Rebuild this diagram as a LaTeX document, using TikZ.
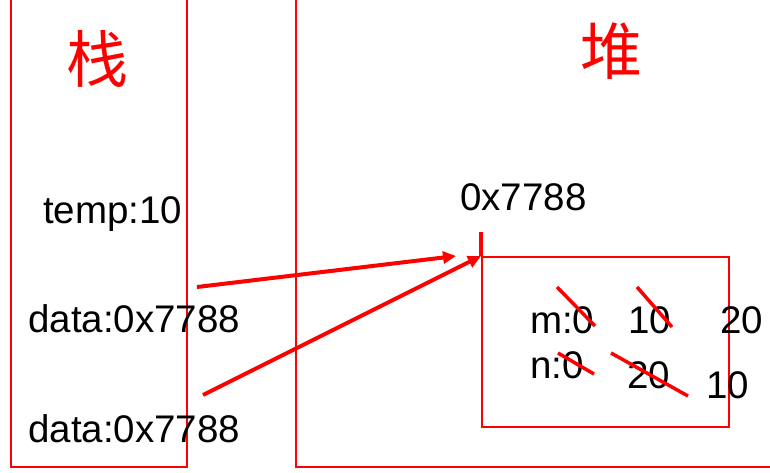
\documentclass[tikz,border=0pt]{standalone}
\usepackage{fontspec}
\setmainfont{Liberation Sans}
\newfontfamily\cjk{Noto Sans CJK SC}
\usetikzlibrary{arrows.meta}
\begin{document}
\begin{tikzpicture}[x=1pt,y=-1pt,
  box/.style={draw=red, line width=1.8pt},
  txt/.style={anchor=base west, inner sep=0pt, font=\fontsize{38.5}{40}\selectfont},
  title/.style={text=red, inner sep=0pt, font=\cjk\fontsize{62}{64}\selectfont},
  arr/.style={draw=red, line width=4pt, -{Triangle[length=13pt,width=12pt]}},
  strike/.style={draw=red, line width=3.5pt},
  tickline/.style={draw=red, line width=3.5pt}]
\useasboundingbox (0,0) rectangle (770,473);
% stack and heap areas
\draw[box] (11,-5) -- (11,467) -- (187,467) -- (187,-5);
\draw[box] (296,-5) -- (296,467) -- (775,467);
\node[title] (stack) at (97,59) {栈};
\node[title] (heap) at (611,51) {堆};
% stack contents
\node[txt] (temp) at (43,223) {temp:10};
\node[txt] (d1) at (28,332) {data:0x7788};
\node[txt] (d2) at (28,442) {data:0x7788};
% heap object
\node[box, anchor=north west, minimum width=247pt, minimum height=170pt, inner sep=0pt] (obj) at (481,256) {};
\node[txt] (addr) at (460,210) {0x7788};
\coordinate (tk) at (481,232);
\draw[tickline] (tk) -- (obj.north west);
\node[txt] (m0) at (530,333) {m:0};
\node[txt] (m10) at (628,333) {10};
\node[txt] (m20) at (720,333) {20};
\node[txt] (n0) at (530,378) {n:0};
\node[txt] (n20) at (627,388) {20};
\node[txt] (n10) at (706,398) {10};
% strike-throughs
\coordinate (a1) at (557,287); \coordinate (b1) at (595,326);
\coordinate (a2) at (637,287); \coordinate (b2) at (672,327);
\coordinate (a3) at (558,353); \coordinate (b3) at (594,374);
\coordinate (a4) at (611,353); \coordinate (b4) at (688,396);
\draw[strike] (a1) -- (b1);
\draw[strike] (a2) -- (b2);
\draw[strike] (a3) -- (b3);
\draw[strike] (a4) -- (b4);
% references
\coordinate (s1) at (197,287);
\coordinate (e1) at (456,256);
\coordinate (s2) at (203,395);
\draw[arr] (s1) -- (e1);
\draw[arr] (s2) -- (obj.north west);
\end{tikzpicture}
\end{document}
